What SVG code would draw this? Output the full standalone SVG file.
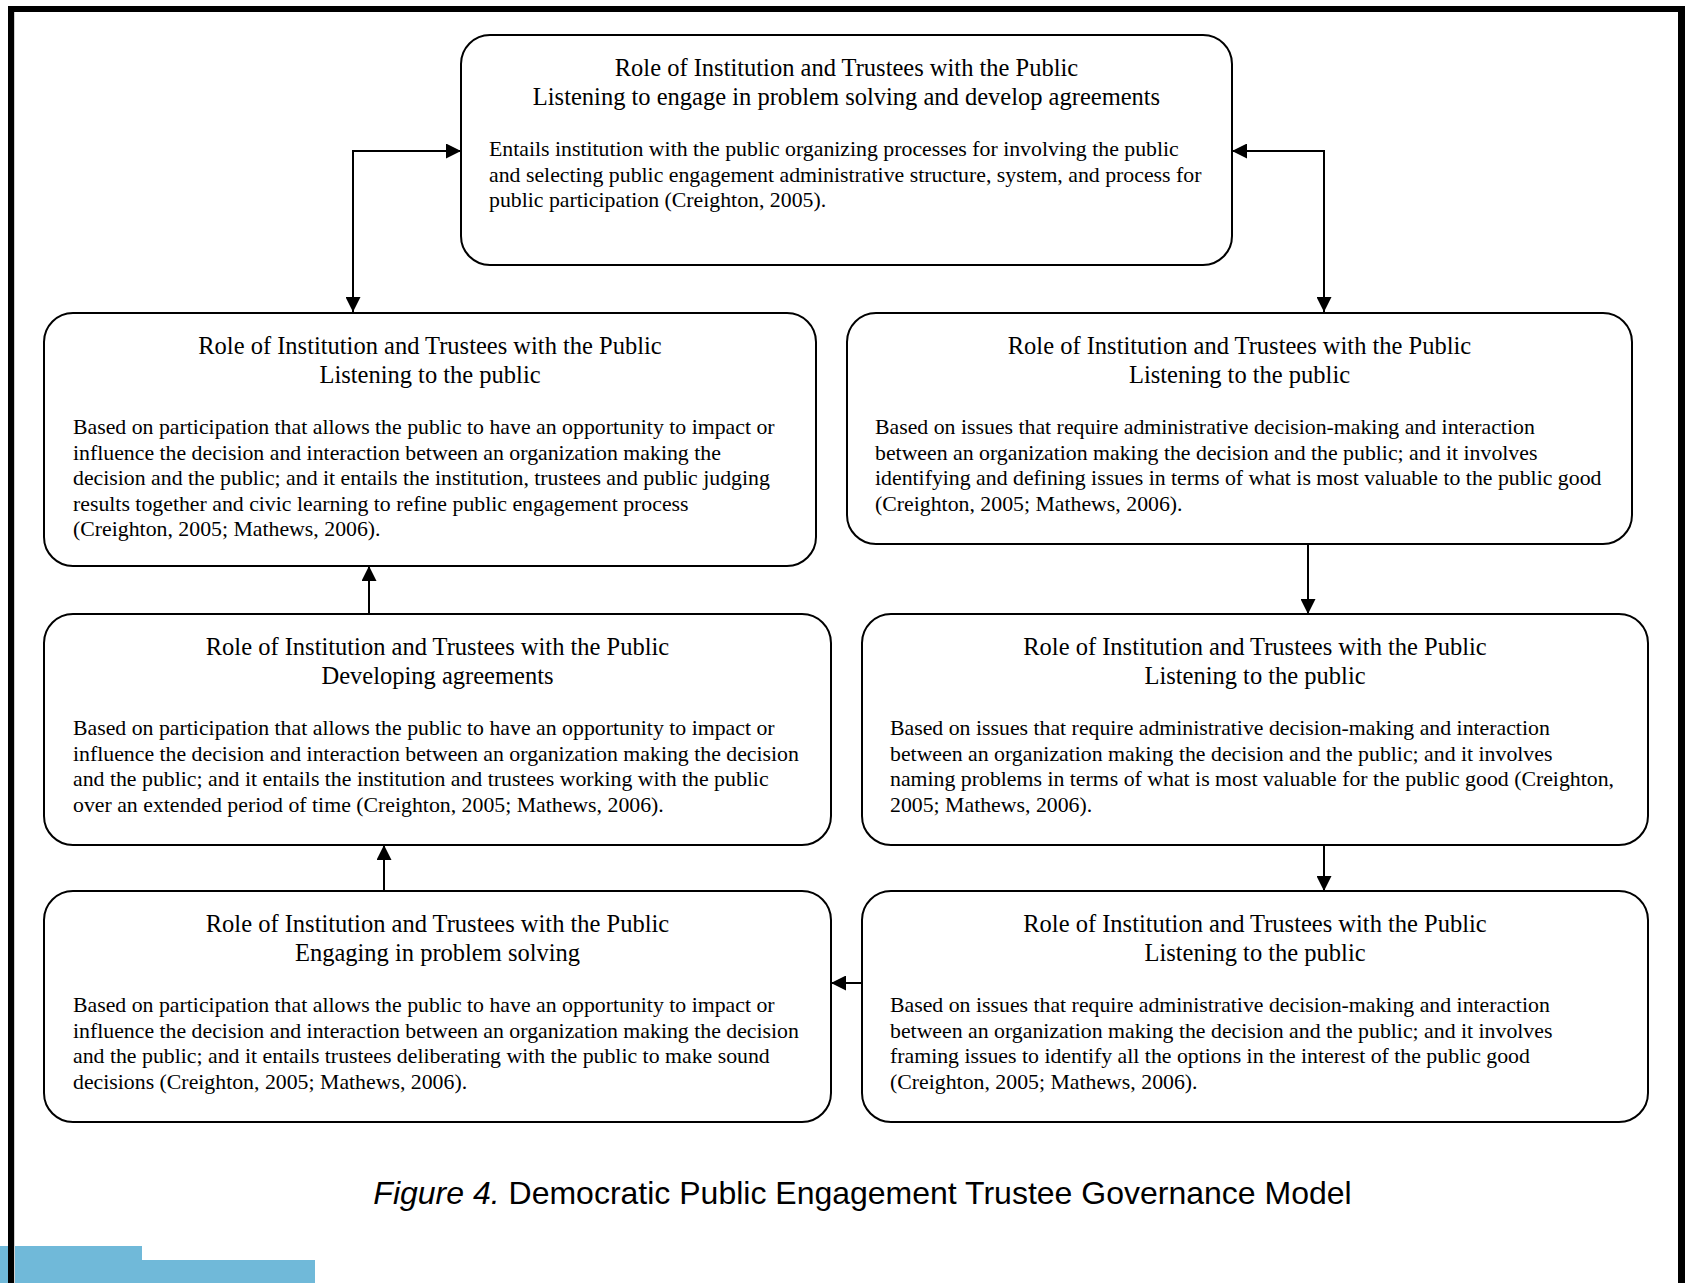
<svg xmlns="http://www.w3.org/2000/svg" width="1685" height="1283" viewBox="0 0 1685 1283">
<style>
.box{fill:#fff;stroke:#000;stroke-width:2}
.t{font-family:"Liberation Serif","Times New Roman",serif;font-size:24.5px;fill:#000;text-anchor:middle}
.b{font-family:"Liberation Serif","Times New Roman",serif;font-size:21.8px;fill:#000}
.c{stroke:#000;stroke-width:2;fill:none;marker-end:url(#ah)}
.cap{font-family:"Liberation Sans",Arial,sans-serif;font-size:32px;fill:#000;text-anchor:middle}
</style>
<defs>
<marker id="ah" viewBox="0 0 15 15" refX="15" refY="7.5" markerWidth="15" markerHeight="15" markerUnits="userSpaceOnUse" orient="auto-start-reverse">
<path d="M0,0 L15,7.5 L0,15 Z" fill="#000"/>
</marker>
</defs>
<rect x="0" y="0" width="1685" height="1283" fill="#fff"/>
<g id="footer-bars">
<rect x="0" y="1246" width="142" height="37" fill="#70b9d9"/>
<rect x="142" y="1260" width="173" height="23" fill="#70b9d9"/>
</g>
<g id="frame">
<line x1="14.5" y1="12" x2="14.5" y2="1283" stroke="#cfcfcf" stroke-width="1"/>
<line x1="11" y1="6" x2="11" y2="1283" stroke="#000" stroke-width="6"/>
<line x1="8" y1="9" x2="1685" y2="9" stroke="#000" stroke-width="6"/>
<line x1="1681.5" y1="6" x2="1681.5" y2="1283" stroke="#000" stroke-width="7"/>
</g>
<g id="connectors">
<path class="c" style="marker-start:url(#ah)" d="M353,312 V151 H461"/>
<path class="c" style="marker-start:url(#ah)" d="M1232,151 H1324 V312"/>
<path class="c" d="M369,614 V566"/>
<path class="c" d="M384,891 V845"/>
<path class="c" d="M1308,544 V614"/>
<path class="c" d="M1324,845 V891"/>
<path class="c" d="M862,983 H831"/>
</g>
<g id="node-top">
<rect class="box" x="461" y="35" width="771" height="230" rx="29"/>
<text class="t" x="846.5" y="76">Role of Institution and Trustees with the Public</text>
<text class="t" x="846.5" y="105">Listening to engage in problem solving and develop agreements</text>
<text class="b" x="489" y="156">Entails institution with the public organizing processes for involving the public</text>
<text class="b" x="489" y="181.5">and selecting public engagement administrative structure, system, and process for</text>
<text class="b" x="489" y="207">public participation (Creighton, 2005).</text>
</g>
<g id="node-listening-left">
<rect class="box" x="44" y="313" width="772" height="253" rx="29"/>
<text class="t" x="430" y="354">Role of Institution and Trustees with the Public</text>
<text class="t" x="430" y="383">Listening to the public</text>
<text class="b" x="73" y="434">Based on participation that allows the public to have an opportunity to impact or</text>
<text class="b" x="73" y="459.5">influence the decision and interaction between an organization making the</text>
<text class="b" x="73" y="485">decision and the public; and it entails the institution, trustees and public judging</text>
<text class="b" x="73" y="510.5">results together and civic learning to refine public engagement process</text>
<text class="b" x="73" y="536">(Creighton, 2005; Mathews, 2006).</text>
</g>
<g id="node-listening-right-1">
<rect class="box" x="847" y="313" width="785" height="231" rx="29"/>
<text class="t" x="1239.5" y="354">Role of Institution and Trustees with the Public</text>
<text class="t" x="1239.5" y="383">Listening to the public</text>
<text class="b" x="875" y="434">Based on issues that require administrative decision-making and interaction</text>
<text class="b" x="875" y="459.5">between an organization making the decision and the public; and it involves</text>
<text class="b" x="875" y="485">identifying and defining issues in terms of what is most valuable to the public good</text>
<text class="b" x="875" y="510.5">(Creighton, 2005; Mathews, 2006).</text>
</g>
<g id="node-developing">
<rect class="box" x="44" y="614" width="787" height="231" rx="29"/>
<text class="t" x="437.5" y="655">Role of Institution and Trustees with the Public</text>
<text class="t" x="437.5" y="684">Developing agreements</text>
<text class="b" x="73" y="735">Based on participation that allows the public to have an opportunity to impact or</text>
<text class="b" x="73" y="760.5">influence the decision and interaction between an organization making the decision</text>
<text class="b" x="73" y="786">and the public; and it entails the institution and trustees working with the public</text>
<text class="b" x="73" y="811.5">over an extended period of time (Creighton, 2005; Mathews, 2006).</text>
</g>
<g id="node-listening-right-2">
<rect class="box" x="862" y="614" width="786" height="231" rx="29"/>
<text class="t" x="1255" y="655">Role of Institution and Trustees with the Public</text>
<text class="t" x="1255" y="684">Listening to the public</text>
<text class="b" x="890" y="735">Based on issues that require administrative decision-making and interaction</text>
<text class="b" x="890" y="760.5">between an organization making the decision and the public; and it involves</text>
<text class="b" x="890" y="786">naming problems in terms of what is most valuable for the public good (Creighton,</text>
<text class="b" x="890" y="811.5">2005; Mathews, 2006).</text>
</g>
<g id="node-engaging">
<rect class="box" x="44" y="891" width="787" height="231" rx="29"/>
<text class="t" x="437.5" y="932">Role of Institution and Trustees with the Public</text>
<text class="t" x="437.5" y="961">Engaging in problem solving</text>
<text class="b" x="73" y="1012">Based on participation that allows the public to have an opportunity to impact or</text>
<text class="b" x="73" y="1037.5">influence the decision and interaction between an organization making the decision</text>
<text class="b" x="73" y="1063">and the public; and it entails trustees deliberating with the public to make sound</text>
<text class="b" x="73" y="1088.5">decisions (Creighton, 2005; Mathews, 2006).</text>
</g>
<g id="node-listening-right-3">
<rect class="box" x="862" y="891" width="786" height="231" rx="29"/>
<text class="t" x="1255" y="932">Role of Institution and Trustees with the Public</text>
<text class="t" x="1255" y="961">Listening to the public</text>
<text class="b" x="890" y="1012">Based on issues that require administrative decision-making and interaction</text>
<text class="b" x="890" y="1037.5">between an organization making the decision and the public; and it involves</text>
<text class="b" x="890" y="1063">framing issues to identify all the options in the interest of the public good</text>
<text class="b" x="890" y="1088.5">(Creighton, 2005; Mathews, 2006).</text>
</g>
<g id="caption">
<text class="cap" x="862.5" y="1204"><tspan font-style="italic">Figure 4.</tspan> Democratic Public Engagement Trustee Governance Model</text>
</g>
</svg>
